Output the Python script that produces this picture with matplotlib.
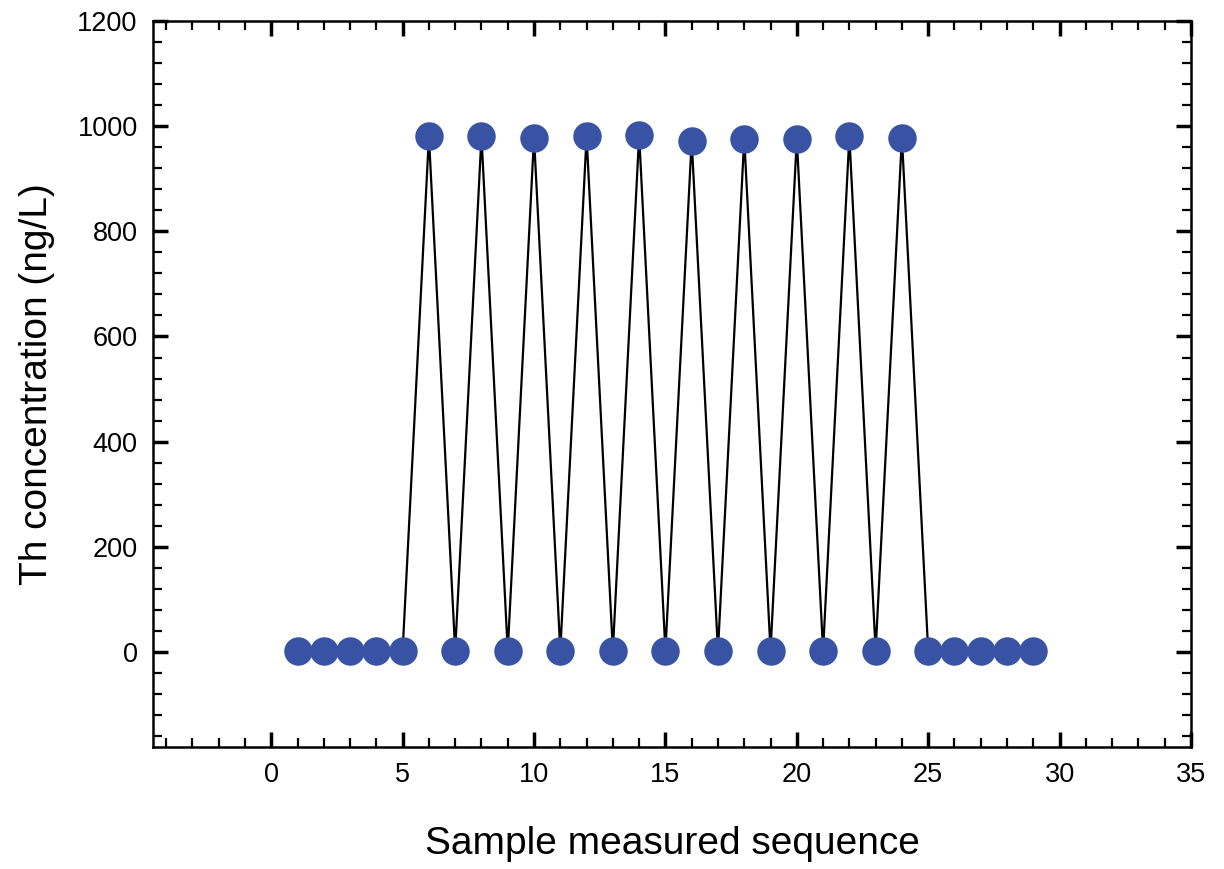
import matplotlib
matplotlib.use('Agg')
import matplotlib.pyplot as plt
from matplotlib.ticker import MultipleLocator

plt.rcParams['font.family'] = ['Liberation Sans', 'DejaVu Sans']

# measurement sequence and Th concentration (ng/L)
sequence = list(range(1, 30))
concentration = [
    3, 3, 3, 3, 3,
    980, 3, 980, 3, 978, 3, 980, 3, 982, 3,
    972, 3, 976, 3, 975, 3, 980, 3, 978, 3,
    3, 3, 3, 3,
]

fig = plt.figure(figsize=(12.24, 8.69), dpi=100)
ax = fig.add_axes([0.125, 0.1404, 0.848, 0.8358])

ax.plot(sequence, concentration, color='black', linewidth=1.6, zorder=2)
ax.plot(sequence, concentration, linestyle='none', marker='o', markersize=19.5,
        markerfacecolor='#3953a4', markeredgecolor='#3953a4', zorder=3)

ax.set_xlim(-4.5, 35)
ax.set_ylim(-180, 1200)
ax.xaxis.set_major_locator(MultipleLocator(5))
ax.xaxis.set_minor_locator(MultipleLocator(1))
ax.yaxis.set_major_locator(MultipleLocator(200))
ax.yaxis.set_minor_locator(MultipleLocator(40))

ax.tick_params(which='both', direction='in', top=True, right=True, labelsize=19.5)
ax.tick_params(which='major', length=11, width=2.5, pad=11)
ax.tick_params(which='minor', length=6.5, width=1.6)
for sp in ax.spines.values():
    sp.set_linewidth(1.8)

ax.set_xlabel('Sample measured sequence', fontsize=28, labelpad=27)
ax.set_ylabel('Th concentration (ng/L)', fontsize=28, labelpad=16)

fig.savefig('out.png', dpi=100)
